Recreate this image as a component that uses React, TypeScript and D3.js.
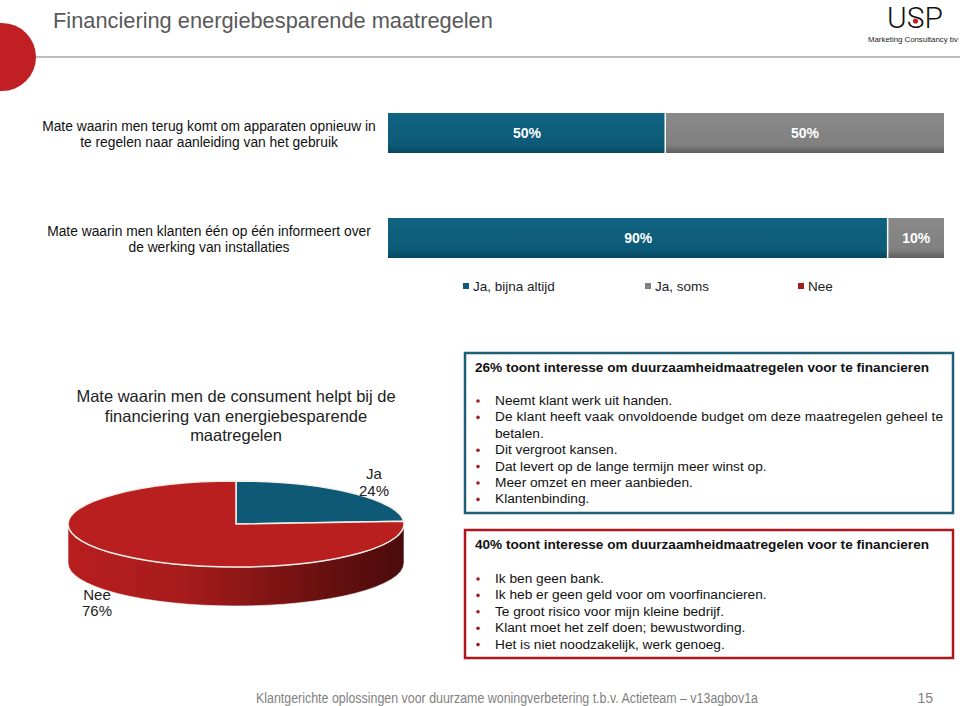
import React from 'react';
import * as d3 from 'd3';

// chart data
const barQuestions = [
  ["Mate waarin men terug komt om apparaten opnieuw in", "te regelen naar aanleiding van het gebruik"],
  ["Mate waarin men klanten één op één informeert over", "de werking van installaties"],
];
const seriesNames = ["Ja, bijna altijd", "Ja, soms", "Nee"];
const seriesJa = [50, 90];
const seriesSoms = [50, 10];
const seriesNee = [0, 0];

const pieTitle = ["Mate waarin men de consument helpt bij de", "financiering van energiebesparende", "maatregelen"];
const pieLabels = ["Ja", "Nee"];
const pieValues = [24, 76];

const box1Title = "26% toont interesse om duurzaamheidmaatregelen voor te financieren";
const box1Lines = [
  { t: "Neemt klant werk uit handen.", b: true },
  { t: "De klant heeft vaak onvoldoende budget om deze maatregelen geheel te", b: true, j: true },
  { t: "betalen.", b: false },
  { t: "Dit vergroot kansen.", b: true },
  { t: "Dat levert op de lange termijn meer winst op.", b: true },
  { t: "Meer omzet en meer aanbieden.", b: true },
  { t: "Klantenbinding.", b: true },
];
const box2Title = "40% toont interesse om duurzaamheidmaatregelen voor te financieren";
const box2Lines = [
  { t: "Ik ben geen bank.", b: true },
  { t: "Ik heb er geen geld voor om voorfinancieren.", b: true },
  { t: "Te groot risico voor mijn kleine bedrijf.", b: true },
  { t: "Klant moet het zelf doen; bewustwording.", b: true },
  { t: "Het is niet noodzakelijk, werk genoeg.", b: true },
];

const colors = ["#0c5a78", "#808080", "#a31d1d"];
const pieColors = ["#0e5a76", "#b91f1f"];
const font = "Arial, 'Liberation Sans', sans-serif";

export default function App() {
  const W = 960, H = 706;

  // stacked bars
  const rows = barQuestions.map((q, i) => ({ ja: seriesJa[i], soms: seriesSoms[i], nee: seriesNee[i] }));
  const stack = d3.stack<any>().keys(["ja", "soms", "nee"])(rows);
  const x = d3.scaleLinear().domain([0, 100]).range([388, 944]);
  const bh = 40;
  const yPos = [113, 218];

  // 3d pie
  const cx = 236, cy = 524, rx = 168, ry = 43, depth = 39;
  const arcs = d3.pie<number>().sort(null).startAngle(0).endAngle(2 * Math.PI)(pieValues);
  const pt = (a: number, dy = 0) => [cx + rx * Math.sin(a), cy - ry * Math.cos(a) + dy];
  const topPath = (a0: number, a1: number) => {
    const p0 = pt(a0), p1 = pt(a1);
    const large = a1 - a0 > Math.PI ? 1 : 0;
    return `M${cx},${cy}L${p0[0]},${p0[1]}A${rx},${ry} 0 ${large} 1 ${p1[0]},${p1[1]}Z`;
  };
  const sidePath = (a0: number, a1: number) => {
    const s = Math.max(a0, Math.PI / 2), e = Math.min(a1, 1.5 * Math.PI);
    if (e <= s) return null;
    const p0 = pt(s), p1 = pt(e), q1 = pt(e, depth), q0 = pt(s, depth);
    return `M${p0[0]},${p0[1]}A${rx},${ry} 0 0 1 ${p1[0]},${p1[1]}L${q1[0]},${q1[1]}A${rx},${ry} 0 0 0 ${q0[0]},${q0[1]}Z`;
  };

  const drawBox = (x0: number, y0: number, w: number, h: number, stroke: string, title: string, lines: any[], ly: number) => (
    <g>
      <rect x={x0} y={y0} width={w} height={h} fill="#fff" stroke={stroke} strokeWidth={2.5} />
      <text x={475} y={y0 + 19} fontFamily={font} fontSize={13.6} fontWeight="bold" fill="#111">{title}</text>
      {lines.map((l, i) => (
        <g key={i}>
          {l.b && <circle cx={478} cy={ly + i * 16.4 - 4} r={1.8} fill="#a31d1d" />}
          <text x={495} y={ly + i * 16.4} fontFamily={font} fontSize={13.7} fill="#111"
            {...(l.j ? { textLength: 448, lengthAdjust: "spacing" } : {})}>{l.t}</text>
        </g>
      ))}
    </g>
  );

  return (
    <svg width={W} height={H} style={{ position: 'absolute', left: 0, top: 0, background: '#fff' }}>
      <defs>
        <linearGradient id="gJa" x1="0" y1="0" x2="0" y2="1">
          <stop offset="0" stopColor="#0f6380" />
          <stop offset="0.8" stopColor="#0c5a78" />
          <stop offset="1" stopColor="#07465e" />
        </linearGradient>
        <linearGradient id="gSoms" x1="0" y1="0" x2="0" y2="1">
          <stop offset="0" stopColor="#898989" />
          <stop offset="0.8" stopColor="#808080" />
          <stop offset="1" stopColor="#5e5e5e" />
        </linearGradient>
        <linearGradient id="gSide" x1="0" y1="0" x2="1" y2="0">
          <stop offset="0" stopColor="#b81e1e" />
          <stop offset="0.35" stopColor="#a61b1b" />
          <stop offset="0.75" stopColor="#6a1010" />
          <stop offset="1" stopColor="#4a0b0b" />
        </linearGradient>
      </defs>

      {/* header */}
      <circle cx={2} cy={57} r={34} fill="#c01f24" />
      <line x1={36} x2={960} y1={57} y2={57} stroke="#a6a6a6" strokeWidth={1.5} />
      <text x={53} y={28} fontFamily={font} fontSize={21.8} fill="#595959">Financiering energiebesparende maatregelen</text>
      <text x={887} y={28} fontFamily="Roboto, sans-serif" fontWeight={300} fontSize={30} fill="#111" textLength={56} lengthAdjust="spacingAndGlyphs">USP</text>
      <circle cx={915.5} cy={21} r={2.6} fill="#c01f24" />
      <text x={868} y={42} fontFamily={font} fontSize={7.5} fill="#222" textLength={90} lengthAdjust="spacingAndGlyphs">Marketing Consultancy bv</text>

      {/* bar questions */}
      {barQuestions.map((q, i) => (
        <g key={i}>
          {q.map((l, j) => (
            <text key={j} x={209} y={yPos[i] + 18 + j * 16} textAnchor="middle" fontFamily={font} fontSize={13.8} fill="#111">{l}</text>
          ))}
        </g>
      ))}

      {/* stacked bars */}
      {stack.map((s, k) => (
        <g key={k}>
          {s.map((d, i) => d[1] - d[0] > 0 && (
            <g key={i}>
              <rect x={x(d[0])} y={yPos[i]} width={x(d[1]) - x(d[0]) - (d[1] < 100 ? 1.5 : 0)} height={bh}
                fill={k === 0 ? "url(#gJa)" : k === 1 ? "url(#gSoms)" : colors[2]} />
              <text x={(x(d[0]) + x(d[1])) / 2} y={yPos[i] + bh / 2 + 5} textAnchor="middle" fontFamily={font}
                fontSize={14} fontWeight="bold" fill="#fff">{`${d[1] - d[0]}%`}</text>
            </g>
          ))}
        </g>
      ))}

      {/* legend */}
      {seriesNames.map((n, i) => {
        const lx = [463, 645, 798][i];
        return (
          <g key={n}>
            <rect x={lx} y={283} width={6} height={6} fill={colors[i]} />
            <text x={lx + 10} y={291} fontFamily={font} fontSize={13.5} fill="#222">{n}</text>
          </g>
        );
      })}

      {/* pie */}
      {pieTitle.map((l, i) => (
        <text key={i} x={236} y={402 + i * 19.5} textAnchor="middle" fontFamily={font} fontSize={16.5} fill="#222">{l}</text>
      ))}
      {arcs.map((a, i) => {
        const p = sidePath(a.startAngle, a.endAngle);
        return p && <path key={'s' + i} d={p} fill={i === 1 ? "url(#gSide)" : "#06384b"} stroke="#fff" strokeWidth={0.6} />;
      })}
      {arcs.map((a, i) => (
        <path key={'t' + i} d={topPath(a.startAngle, a.endAngle)} fill={pieColors[i]} stroke="#f4efe8" strokeWidth={1.5} />
      ))}
      <text x={374} y={479} textAnchor="middle" fontFamily={font} fontSize={15} fill="#222">{pieLabels[0]}</text>
      <text x={374} y={496} textAnchor="middle" fontFamily={font} fontSize={15} fill="#222">{`${pieValues[0]}%`}</text>
      <text x={97} y={600} textAnchor="middle" fontFamily={font} fontSize={15} fill="#222">{pieLabels[1]}</text>
      <text x={97} y={616} textAnchor="middle" fontFamily={font} fontSize={15} fill="#222">{`${pieValues[1]}%`}</text>

      {/* text boxes */}
      {drawBox(465, 353, 488, 160, "#1f5f75", box1Title, box1Lines, 405)}
      {drawBox(465, 530, 488, 128, "#b0161c", box2Title, box2Lines, 583)}

      {/* footer */}
      <text x={256} y={703} fontFamily="'Liberation Sans Narrow', 'Arial Narrow', sans-serif" fontSize={14} fill="#7f7f7f" textLength={502} lengthAdjust="spacingAndGlyphs">Klantgerichte oplossingen voor duurzame woningverbetering t.b.v. Actieteam – v13agbov1a</text>
      <text x={933} y={703} textAnchor="end" fontFamily="'Liberation Sans Narrow', 'Arial Narrow', sans-serif" fontSize={14} fill="#7f7f7f">15</text>
    </svg>
  );
}
